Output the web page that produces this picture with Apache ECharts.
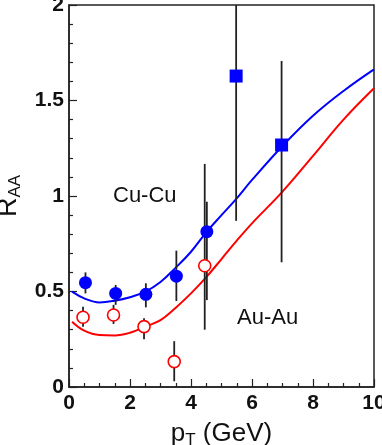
<!DOCTYPE html>
<html>
<head>
<meta charset="utf-8">
<script src="https://cdn.jsdelivr.net/npm/echarts@6/dist/echarts.min.js"></script>
<style>
  html, body { margin: 0; padding: 0; background: #fff; }
  #chart { width: 382px; height: 445px; }
</style>
</head>
<body>
<div id="chart"></div>
<script>
// Cu-Cu points (filled circles)
const cuX = [0.54, 1.53, 2.52, 3.52, 4.52]
const cuY = [0.546, 0.49, 0.485, 0.58, 0.813]
const cuLo = [0.49, 0.43, 0.417, 0.45, 0.455]
const cuHi = [0.60, 0.534, 0.543, 0.714, 0.97]
// Cu-Cu points (squares)
const sqX = [5.48, 6.97]
const sqY = [1.628, 1.267]
const sqLo = [0.87, 0.653]
const sqHi = [2.05, 1.707]
// Au-Au points (open circles)
const auX = [0.46, 1.46, 2.46, 3.45, 4.45]
const auY = [0.365, 0.377, 0.316, 0.133, 0.635]
const auLo = [0.316, 0.33, 0.25, 0.03, 0.30]
const auHi = [0.42, 0.43, 0.36, 0.24, 1.168]
// model curves
const curveX = [0.1, 0.5, 1, 1.5, 2, 2.5, 3, 3.5, 4, 4.5, 5, 5.5, 6, 7, 8, 9, 10]
const cuCurve = [0.499, 0.464, 0.443, 0.452, 0.47, 0.499, 0.55, 0.625, 0.708, 0.81, 0.90, 0.988, 1.084, 1.262, 1.42, 1.55, 1.663]
const auCurve = [0.342, 0.295, 0.272, 0.27, 0.284, 0.316, 0.35, 0.415, 0.49, 0.575, 0.67, 0.766, 0.857, 1.023, 1.21, 1.40, 1.564]

const FONT = '"Liberation Sans", Arial, Helvetica, sans-serif'

const zip = (a, b) => a.map((v, i) => [v, b[i]])
const bars = (xs, lo, hi) => xs.map((v, i) => [v, lo[i], hi[i]])

const errorSeries = (data, z) => ({
  type: 'custom',
  z: z,
  clip: true,
  data: data,
  renderItem: (params, api) => {
    const p1 = api.coord([api.value(0), api.value(1)])
    const p2 = api.coord([api.value(0), api.value(2)])
    return {
      type: 'line',
      shape: { x1: p1[0], y1: p1[1], x2: p2[0], y2: p2[1] },
      style: { stroke: '#222', lineWidth: 1.8 }
    }
  }
})

const chart = echarts.init(document.getElementById('chart'))

const option = {
  animation: false,
  grid: {
    left: 69, right: 8, top: 5, bottom: 58,
    outerBoundsMode: 'none', containLabel: false,
    show: true, borderColor: '#222', borderWidth: 1.5, backgroundColor: 'transparent'
  },
  xAxis: {
    type: 'value', min: 0, max: 10, interval: 2,
    name: 'p{s|T} (GeV)',
    nameLocation: 'middle', nameGap: 31,
    nameTextStyle: {
      fontFamily: FONT, fontSize: 26, color: '#111',
      rich: { s: { fontFamily: FONT, fontSize: 17, color: '#111', padding: [14, 0, 0, 0] } }
    },
    axisLine: { show: true, lineStyle: { color: '#222', width: 1.5 } },
    axisTick: { inside: true, length: 8, lineStyle: { color: '#222', width: 1.2 } },
    minorTick: { show: true, splitNumber: 4, length: 4, lineStyle: { color: '#222', width: 1.2 } },
    axisLabel: { fontFamily: FONT, fontWeight: 'bold', fontSize: 21, color: '#111', margin: 6 },
    splitLine: { show: false }
  },
  yAxis: {
    type: 'value', min: 0, max: 2, interval: 0.5,
    name: 'R{s|AA}',
    nameLocation: 'middle', nameGap: 42, nameRotate: 90,
    nameTextStyle: {
      fontFamily: FONT, fontSize: 27, color: '#111',
      rich: { s: { fontFamily: FONT, fontSize: 17, color: '#111', padding: [14, 0, 0, 0] } }
    },
    axisLine: { show: true, lineStyle: { color: '#222', width: 1.5 } },
    axisTick: { inside: true, length: 8, lineStyle: { color: '#222', width: 1.2 } },
    minorTick: { show: true, splitNumber: 5, length: 4, lineStyle: { color: '#222', width: 1.2 } },
    axisLabel: { fontFamily: FONT, fontWeight: 'bold', fontSize: 21, color: '#111', margin: 5 },
    splitLine: { show: false }
  },
  graphic: [
    { type: 'text', left: 113, top: 185, style: { text: 'Cu-Cu', font: '22px ' + FONT, fill: '#111' } },
    { type: 'text', left: 237, top: 307, style: { text: 'Au-Au', font: '22px ' + FONT, fill: '#111' } }
  ],
  series: [
    {
      type: 'line', data: zip(curveX, cuCurve), smooth: 0.4, showSymbol: false, z: 2,
      lineStyle: { color: '#0000ff', width: 2 }
    },
    {
      type: 'line', data: zip(curveX, auCurve), smooth: 0.4, showSymbol: false, z: 2,
      lineStyle: { color: '#ff0000', width: 2 }
    },
    errorSeries(bars(cuX, cuLo, cuHi), 3),
    errorSeries(bars(sqX, sqLo, sqHi), 3),
    errorSeries(bars(auX, auLo, auHi), 3),
    {
      type: 'scatter', data: zip(cuX, cuY), symbol: 'circle', symbolSize: 13, z: 5,
      itemStyle: { color: '#0000ff', opacity: 1 }
    },
    {
      type: 'scatter', data: zip(sqX, sqY), symbol: 'rect', symbolSize: 13, z: 5,
      itemStyle: { color: '#0000ff', opacity: 1 }
    },
    {
      type: 'scatter', data: zip(auX, auY), symbol: 'circle', symbolSize: 12, z: 5,
      itemStyle: { color: '#ffffff', borderColor: '#ff0000', borderWidth: 1.6, opacity: 1 }
    }
  ]
}

chart.setOption(option)
</script>
</body>
</html>
